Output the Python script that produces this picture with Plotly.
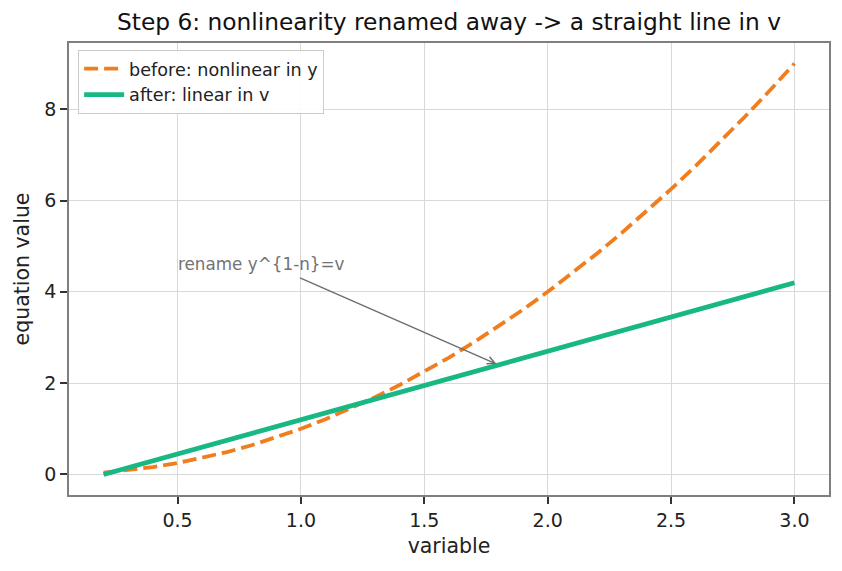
import plotly.graph_objects as go

x_vals = [0.2, 0.3, 0.4, 0.5, 0.6, 0.7, 0.8, 0.9, 1.0, 1.1, 1.2, 1.3, 1.4, 1.5,
          1.6, 1.7, 1.8, 1.9, 2.0, 2.1, 2.2, 2.3, 2.4, 2.5, 2.6, 2.7, 2.8, 2.9, 3.0]
before_y = [0.04, 0.09, 0.16, 0.25, 0.36, 0.49, 0.64, 0.81, 1.00, 1.21, 1.44, 1.69,
            1.96, 2.25, 2.56, 2.89, 3.24, 3.61, 4.00, 4.41, 4.84, 5.29, 5.76, 6.25,
            6.76, 7.29, 7.84, 8.41, 9.00]
after_v = [0.00, 0.15, 0.30, 0.45, 0.60, 0.75, 0.90, 1.05, 1.20, 1.35, 1.50, 1.65,
           1.80, 1.95, 2.10, 2.25, 2.40, 2.55, 2.70, 2.85, 3.00, 3.15, 3.30, 3.45,
           3.60, 3.75, 3.90, 4.05, 4.20]
x_ticks = [0.5, 1.0, 1.5, 2.0, 2.5, 3.0]
y_ticks = [0, 2, 4, 6, 8]

FONT = "DejaVu Sans"
fig = go.Figure()
fig.add_trace(go.Scatter(x=x_vals, y=before_y, mode="lines", name="before: nonlinear in y",
                         line=dict(color="#f07d1e", width=3.8, dash="14px,6px")))
fig.add_trace(go.Scatter(x=x_vals, y=after_v, mode="lines", name="after: linear in v",
                         line=dict(color="#17b884", width=4.8)))

fig.add_annotation(x=1.8, y=2.4, ax=0.99, ay=4.32, xref="x", yref="y", axref="x", ayref="y",
                   text="", showarrow=True, arrowhead=5, arrowsize=1.0, arrowwidth=1.5,
                   arrowcolor="#6e6e6e", standoff=2)
fig.add_annotation(x=0.5, y=4.62, xref="x", yref="y", text="rename y^{1-n}=v",
                   showarrow=False, xanchor="left", yanchor="middle", xshift=-2,
                   font=dict(family=FONT, size=16.8, color="#737373"))

axis_common = dict(showline=True, linecolor="#7f7f7f", linewidth=1.5, mirror=True,
                   showgrid=True, gridcolor="#d9d9d9", gridwidth=1, zeroline=False,
                   ticks="outside", ticklen=7, tickcolor="#333", tickwidth=1.5,
                   tickfont=dict(family=FONT, size=19, color="#222"))
fig.update_xaxes(range=[0.06, 3.14], tickvals=x_ticks, ticktext=["0.5", "1.0", "1.5", "2.0", "2.5", "3.0"],
                 title=dict(text="variable", font=dict(family=FONT, size=20.5, color="#222"), standoff=9),
                 **axis_common)
fig.update_yaxes(range=[-0.45, 9.45], tickvals=y_ticks,
                 title=dict(text="equation value", font=dict(family=FONT, size=20.5, color="#222"), standoff=9),
                 **axis_common)

fig.update_layout(
    width=842, height=571,
    margin=dict(l=69, r=13, t=43, b=76),
    paper_bgcolor="white", plot_bgcolor="white",
    title=dict(text="Step 6: nonlinearity renamed away -> a straight line in v",
               xref="paper", x=0.5, xanchor="center", y=0.962, yanchor="middle",
               font=dict(family=FONT, size=23.3, color="#111")),
    legend=dict(x=0.012, y=0.985, xanchor="left", yanchor="top", bgcolor="rgba(255,255,255,0.9)",
                bordercolor="#cccccc", borderwidth=1, font=dict(family=FONT, size=17.6, color="#222"),
                itemwidth=40, tracegroupgap=0),
    showlegend=True,
)
fig.write_html("out.html")
